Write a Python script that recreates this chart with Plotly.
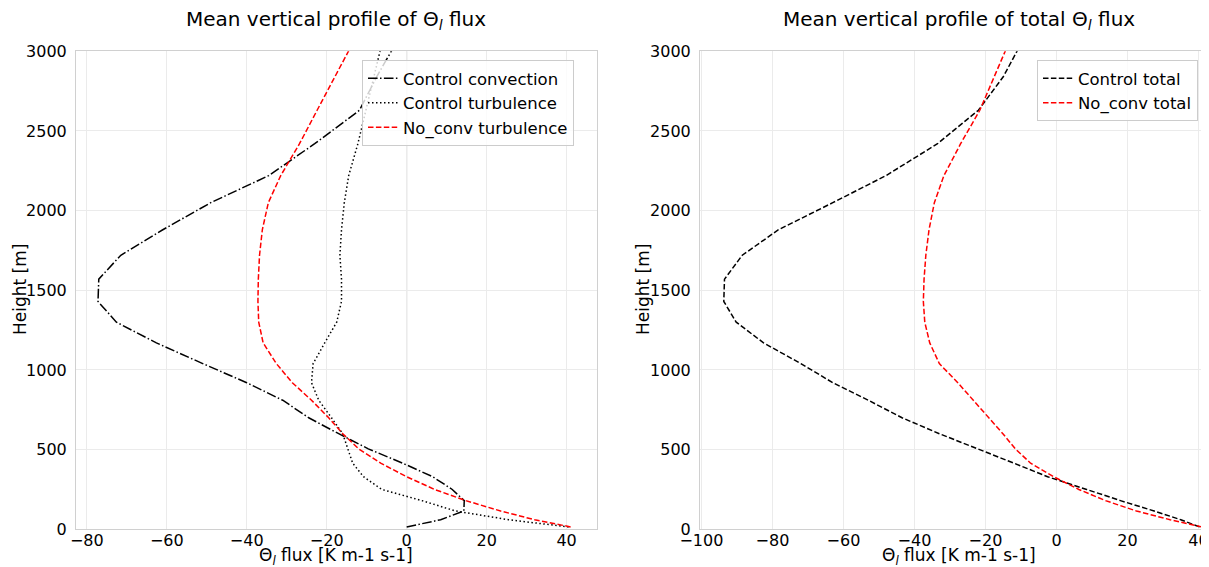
import plotly.graph_objects as go

# Heights of model levels [m]
heights = [15, 60, 115, 180, 250, 330, 415, 505, 600, 700, 810, 920, 1040, 1170,
           1300, 1430, 1570, 1720, 1880, 2050, 2220, 2420, 2630, 2840, 3060]

# Left panel series [K m-1 s-1]
control_convection = [0, 8.5, 14.3, 14.4, 11.4, 6.5, -1, -9.6, -17, -24.5, -31, -40,
                      -51, -62.6, -72.6, -77.2, -77, -71.5, -61, -49, -34.5, -23,
                      -11.8, -7.5, -2.5]
control_turbulence = [40.5, 25.5, 12.2, 3.8, -6.2, -10.8, -13.5, -14.8, -16, -18.8, -22,
                      -23.8, -23.4, -20.5, -17.5, -16.3, -16.3, -16.7, -16.3, -15.6,
                      -14.5, -12.2, -10.2, -8.2, -6.1]
noconv_turbulence = [41, 32, 23.5, 14.8, 7, 0, -6.5, -12, -16, -19.5, -23.8, -28.6,
                     -32.6, -35.9, -37, -37.2, -37.1, -36.8, -36.1, -34.6, -31.5, -26.8,
                     -22.4, -17.9, -13.3]

# Right panel series
control_total = [40.3, 35, 27.5, 18, 8.5, -2.5, -12, -22.3, -33, -43.5, -53, -63, -72,
                 -82.5, -90.2, -93.7, -93.5, -88.5, -78.3, -63, -48, -33.5, -22,
                 -15, -9.7]
noconv_total = [41, 32, 22.5, 13.8, 6.3, -0.8, -7.3, -11.6, -15.1, -19, -23.4, -27.8, -33,
                -35.7, -37.1, -37.5, -37.3, -36.8, -35.9, -34.4, -31.7, -27, -21.6,
                -17.5, -13.3]

xticks_left = [-80, -60, -40, -20, 0, 20, 40]
xticks_right = [-100, -80, -60, -40, -20, 0, 20, 40]
yticks = [0, 500, 1000, 1500, 2000, 2500, 3000]

FONT = "DejaVu Sans"
DASHDOT = "9.6px,2.4px,1.5px,2.4px"
DOTTED = "1.5px,2.5px"
DASHED = "5.5px,2.4px"

W, H = 1209, 567
OFF = 8  # page body margin offset


def px(sx):
    return (sx - OFF) / W


def py(sy):
    return 1 - (sy - OFF) / H


fig = go.Figure()
fig.add_trace(go.Scatter(x=control_convection, y=heights, mode="lines",
                         name="Control convection",
                         line=dict(color="black", width=1.5, dash=DASHDOT),
                         xaxis="x", yaxis="y", legend="legend"))
fig.add_trace(go.Scatter(x=control_turbulence, y=heights, mode="lines",
                         name="Control turbulence",
                         line=dict(color="black", width=1.5, dash=DOTTED),
                         xaxis="x", yaxis="y", legend="legend"))
fig.add_trace(go.Scatter(x=noconv_turbulence, y=heights, mode="lines",
                         name="No_conv turbulence",
                         line=dict(color="red", width=1.5, dash=DASHED),
                         xaxis="x", yaxis="y", legend="legend"))
fig.add_trace(go.Scatter(x=control_total, y=heights, mode="lines",
                         name="Control total",
                         line=dict(color="black", width=1.5, dash=DASHED),
                         xaxis="x2", yaxis="y2", legend="legend2"))
fig.add_trace(go.Scatter(x=noconv_total, y=heights, mode="lines",
                         name="No_conv total",
                         line=dict(color="red", width=1.5, dash=DASHED),
                         xaxis="x2", yaxis="y2", legend="legend2"))

ydom = [py(529.3), py(51.3)]
axis_common = dict(showgrid=True, gridcolor="#ebebeb", gridwidth=1, zeroline=False,
                   showline=True, linecolor="#d0d0d0", linewidth=1,
                   ticks="", tickfont=dict(family=FONT, size=16, color="black"))

legend_style = dict(xanchor="left", yanchor="top",
                    bgcolor="rgba(255,255,255,0.8)", bordercolor="#cccccc", borderwidth=1,
                    font=dict(family=FONT, size=16.5, color="black"))

fig.update_layout(
    width=W, height=H,
    margin=dict(l=0, r=0, t=0, b=0, autoexpand=False),
    paper_bgcolor="white", plot_bgcolor="white",
    font=dict(family=FONT, color="black"),
    xaxis=dict(domain=[px(76), px(597)], range=[-82.7, 47.6], anchor="y", mirror=True,
               tickvals=xticks_left, ticklabelstandoff=-4, **axis_common),
    yaxis=dict(domain=ydom, range=[0, 3000], anchor="x", tickvals=yticks, mirror=True,
               ticklabelstandoff=5, **axis_common),
    xaxis2=dict(domain=[px(700), 1.0], range=[-100.4, 45.2], anchor="y2", mirror=True,
                tickvals=xticks_right, ticklabelstandoff=-4, **axis_common),
    yaxis2=dict(domain=ydom, range=[0, 3000], anchor="x2", tickvals=yticks, mirror=False,
                ticklabelstandoff=5, **axis_common),
    legend=dict(x=px(362), y=py(60), **legend_style),
    legend2=dict(x=px(1037), y=py(60), **legend_style),
    shapes=[
        dict(type="line", xref="x", yref="y domain", x0=0, x1=0, y0=0, y1=1,
             line=dict(color="#b0b0b0", width=1), layer="below"),
        dict(type="line", xref="x2", yref="y2 domain", x0=0, x1=0, y0=0, y1=1,
             line=dict(color="#999999", width=1), layer="below"),
    ],
    annotations=[
        dict(text="Mean vertical profile of Θ<sub><i>l</i></sub> flux", x=px(336), y=py(20),
             xref="paper", yref="paper", xanchor="center", yanchor="middle",
             showarrow=False, font=dict(family=FONT, size=20, color="black")),
        dict(text="Mean vertical profile of total Θ<sub><i>l</i></sub> flux", x=px(959), y=py(20),
             xref="paper", yref="paper", xanchor="center", yanchor="middle",
             showarrow=False, font=dict(family=FONT, size=20, color="black")),
        dict(text="Θ<sub><i>l</i></sub> flux [K m-1 s-1]", x=px(336), y=py(556),
             xref="paper", yref="paper", xanchor="center", yanchor="middle",
             showarrow=False, font=dict(family=FONT, size=17, color="black")),
        dict(text="Θ<sub><i>l</i></sub> flux [K m-1 s-1]", x=px(959), y=py(556),
             xref="paper", yref="paper", xanchor="center", yanchor="middle",
             showarrow=False, font=dict(family=FONT, size=17, color="black")),
        dict(text="Height [m]", x=px(20), y=py(290), textangle=-90,
             xref="paper", yref="paper", xanchor="center", yanchor="middle",
             showarrow=False, font=dict(family=FONT, size=17, color="black")),
        dict(text="Height [m]", x=px(643), y=py(290), textangle=-90,
             xref="paper", yref="paper", xanchor="center", yanchor="middle",
             showarrow=False, font=dict(family=FONT, size=17, color="black")),
    ],
)

fig.write_html("out.html")
